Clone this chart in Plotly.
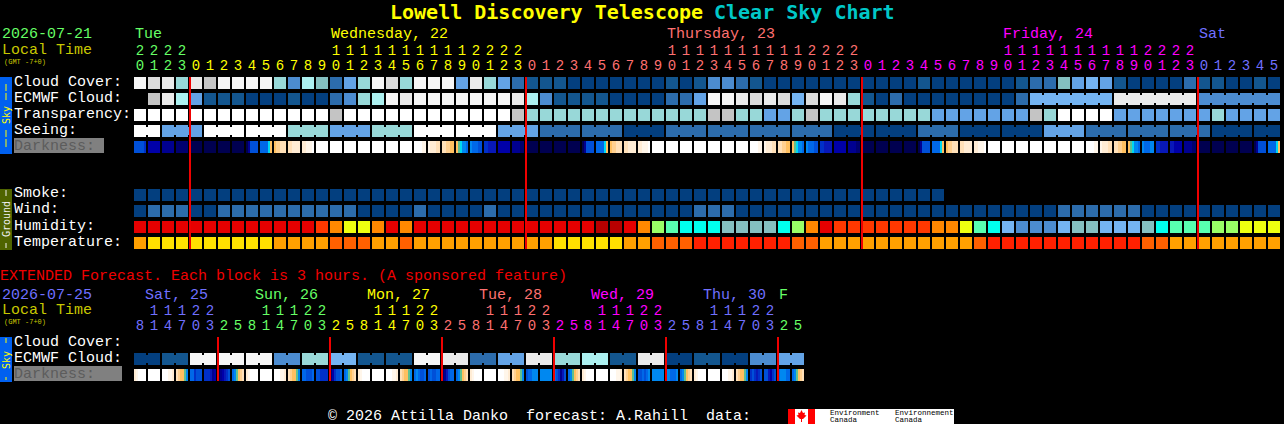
import plotly.graph_objects as go

W, H = 1284, 424
FONT = "Liberation Mono"
TITLE_FONT = "DejaVu Sans Mono"

# colour codes used by the hourly rows
COLORS = {
    "a": "#033F7F", "b": "#13568F", "c": "#2C6CAC", "d": "#4C8CD0", "e": "#63A3E6",
    "f": "#74B4F2", "g": "#84C0C0", "h": "#98D8D8", "i": "#ACF0F0", "j": "#C4C4C4",
    "k": "#DCDCDC", "l": "#EAEAEA", "n": "#F6F6F6", "W": "#FFFFFF",
    "r": "#E60000", "x": "#B80000", "u": "#FF3800", "o": "#FF8800", "y": "#EEFF10",
    "p": "#99FF66", "q": "#58FFB0", "s": "#00FFEE",
    "A": "#FFA000", "Y": "#FFE000", "O": "#FF6000", "T": "#FF2000",
}
CODES = list(COLORS)

# darkness shades, dark sky to full daylight
DARK_COLORS = {
    "A": "#000050", "B": "#000070", "C": "#000090", "D": "#0000A8", "E": "#0818B8",
    "F": "#0030C8", "G": "#0050D8", "H": "#0068E8", "I": "#0088F0", "J": "#00D8F0",
    "K": "#60C090", "L": "#FFC060", "M": "#FFD090", "N": "#FFE0B8", "O": "#FFECD4",
    "P": "#FFF6EA", "Q": "#FFFFFF",
}
DARK_CODES = list(DARK_COLORS)

HOURS = list(range(20, 24)) + list(range(24)) * 3 + list(range(6))
DAY_COLORS = ["#66FF66", "#FFFF00", "#FF7070", "#FF00FF", "#7070FF"]
EXT_HOURS = [8, 11, 14, 17, 20, 23, 2, 5] * 6
EXT_DAY_COLORS = ["#7070FF", "#66FF66", "#FFFF00", "#FF7070", "#FF00FF", "#7070FF", "#66FF66"]

CLOUD = list("nklhljnnnnhdigcehnkhn" "nnelhecbbbaaaaaaababddcbaaaaaaa" "aaaabaaaaaabccgefebaaaacbbaaba")
ECMWF = list("-jliebbbaaabaacdhinln" "nnnnnnlidbbbbaaaaccennlklkfknlh" "bacaaaaaaaacfffffflllllldddddd")
TRANSPARENCY = list("WWWWWWWWWWWWWWjWWWWWW" "WWWWWWjhhhhhhhhhhhhhjjhheehjhhh" "hhhhheeeeeeejhWWWWeeeeeeeheeee")
SEEING = list("WW" "eeeWWWWWWhhheeehhhWWW" "WWWeeeccccccaaacccccccccccc" "aaaaaacccaaaaaaeeeccccccccc" "aaa" "aa")
SMOKE = list("aaaaaaaaaaaaaaaaaaaaaaaaaaaaaaaaaaaaaaaaaaaaaaaaaaaaaaaaaa" "------------------------")
WIND = list("acccaaccccccccccaaaac" "aaaacaaaaaaaaaaaaaacccaaaaaaaaa" "aaaaaaaaaaaaaaccccccaaaaaaaaaa")
HUMIDITY = list("rrrrrrrrrrrrruoyyoror" "rrrrrrrrrrrrxxropqsssggggsporuu" "uuuuuooyqsfdddfggfffgsqqqppyyy")
TEMPERATURE = list("AYYYYYYYYYAAAAOOOAAOA" "AAAAAAAAAYYYYYAAOOOTTTTTTTOOAAA" "AAAAAAAAOTTTTTTTTTTTOOAAAAAAAA")

# six samples for every hourly block, sunset and sunrise change inside a block
DARKNESS = [
    "GGGGGF", "DDDDDD", "CCCCCC", "BBBBBB", "AAAAAA", "AAAAAA", "AAAAAA", "AAAAAA",
    "ACGGGG", "HHHHJL", "LMMNNN", "NNOOOO", "OOPPPQ", "QQQQQQ", "QQQQQQ", "QQQQQQ",
    "QQQQQQ", "QQQQQQ", "QQQQQQ", "QQQQQQ", "QQQQPP", "POOONN", "NNMMLL", "LKJIIH",
    "IHHHGG", "FFEEEE", "DDDDDD", "CCCCBB", "AAAAAA", "AAAAAA", "AAAAAA", "AAAAAA",
    "ACGGGG", "HHHHJL", "LMMNNN", "NNOOOO", "OOPPPQ", "QQQQQQ", "QQQQQQ", "QQQQQQ",
    "QQQQQQ", "QQQQQQ", "QQQQQQ", "QQQQQQ", "QQQQPP", "POOONN", "NNMMLL", "LKJIIH",
    "IHHHGG", "FFEEEE", "DDDDDD", "CCCCBB", "AAAAAA", "AAAAAA", "AAAAAA", "AAAAAA",
    "ACGGGG", "HHHHJL", "LMMNNN", "NNOOOO", "OOPPPQ", "QQQQQQ", "QQQQQQ", "QQQQQQ",
    "QQQQQQ", "QQQQQQ", "QQQQQQ", "QQQQQQ", "QQQQPP", "POOONN", "NNMMLL", "LKJIIH",
    "IHHHII", "FFEEEE", "EEDDDD", "CCCCBB", "AAAAAA", "AAAAAA", "AAAAAA", "AAAAAA",
    "ACGGGG", "HHHHJL",
]

EXT_ECMWF = list("aabbnnnnnnddhhffbbbbnnllcceellhhiibbllaabbaaddee")
EXT_DARKNESS = [
    "OPQQQQ", "QQQQQQ", "QQQPPO", "NMLLKI", "HHFGGG", "FFFECD", "ACDEFG", "HIKLMN",
    "OPQQQQ", "QQQQQQ", "QQQPPO", "NMLLKI", "HHGGGH", "GGFFFF", "BDFGGH", "HIKLMN",
    "OPQQQQ", "QQQQQQ", "QQQPPO", "NMLLKI", "HIHGGH", "GHGGHH", "BCEGHH", "HIKLMN",
    "OPQQQQ", "QQQQQQ", "QQQPPO", "NMLLKI", "GHHIII", "IIIIII", "HGFCEG", "HIKLMN",
    "OPQQQQ", "QQQQQQ", "QQQPPO", "NMLLKI", "GGHGHI", "IIIIII", "IIHHHI", "HIKLMN",
    "OPQQQQ", "QQQQQQ", "QQQPPO", "NMLLKI", "FGFEFG", "GGEDFG", "HIIIHH", "HIKLMN",
]

MAIN_ROWS = [CLOUD, ECMWF, TRANSPARENCY, SEEING, None, None, None, SMOKE, WIND, HUMIDITY, TEMPERATURE]
MAIN_LABELS = [("Cloud Cover:", 0), ("ECMWF Cloud:", 1), ("Transparency:", 2), ("Seeing:", 3),
               ("Smoke:", 7), ("Wind:", 8), ("Humidity:", 9), ("Temperature:", 10)]
DAY_NAMES = [("Tue", 0, 0), ("Wednesday, 22", 14, 1), ("Thursday, 23", 38, 2), ("Friday, 24", 62, 3), ("Sat", 76, 4)]
EXT_DAY_NAMES = [("Sat, 25", 0.7, 0), ("Sun, 26", 8.6, 1), ("Mon, 27", 16.6, 2), ("Tue, 28", 24.6, 3),
                 ("Wed, 29", 32.6, 4), ("Thu, 30", 40.6, 5), ("F", 46, 6)]

# rows are 16 px apart, columns 14 px, first cell starts at px 134
X_RANGE = [-10, 81.714]
Y_RANGE = [21.3125, -5.1875]
EXT_ECMWF_ROW = 17.25
EXT_DARK_ROW = 18.25


def stepped(colors):
    n = len(colors)
    scale = []
    for k, c in enumerate(colors):
        scale += [[k / n, c], [(k + 1) / n, c]]
    return scale


def to_z(codes):
    return [CODES.index(c) if c in COLORS else None for c in codes]


def px(x):
    return x / W


def py(y):
    return 1 - y / H


fig = go.Figure()

# hourly rows
main_z = [to_z(r) if r else [None] * len(HOURS) for r in MAIN_ROWS]
fig.add_trace(go.Heatmap(
    z=main_z, x=list(range(len(HOURS))), y=list(range(len(MAIN_ROWS))),
    colorscale=stepped(list(COLORS.values())), zmin=-0.5, zmax=len(CODES) - 0.5,
    xgap=2, ygap=4, showscale=False, hoverinfo="skip",
))
fig.add_trace(go.Heatmap(
    z=[to_z(EXT_ECMWF)], x=list(range(len(EXT_ECMWF))), y=[EXT_ECMWF_ROW],
    colorscale=stepped(list(COLORS.values())), zmin=-0.5, zmax=len(CODES) - 0.5,
    xgap=2, ygap=4, showscale=False, hoverinfo="skip",
))


# darkness strips have finer steps than one block
def darkness_trace(blocks, row):
    edges = []
    z = []
    for i, block in enumerate(blocks):
        for k, c in enumerate(block):
            edges.append(i - 0.5 + (1 + 2 * k) / 14)
            z.append(DARK_CODES.index(c))
        edges.append(i - 0.5 + 13 / 14)
        z.append(None)
    edges.append(len(blocks) - 0.5 + 1 / 14)
    return go.Heatmap(
        z=[z], x=edges, y=[row - 0.375, row + 0.375],
        colorscale=stepped(list(DARK_COLORS.values())), zmin=-0.5, zmax=len(DARK_CODES) - 0.5,
        showscale=False, hoverinfo="skip",
    )


fig.add_trace(darkness_trace(DARKNESS, 4))
fig.add_trace(darkness_trace(EXT_DARKNESS, EXT_DARK_ROW))


# blocks of one forecast step are joined by a thinner bar
def connector_traces(codes, row, same_block):
    segs = {}
    for i in range(len(codes) - 1):
        if same_block(i) and codes[i] == codes[i + 1] and codes[i] in COLORS:
            xs, ys = segs.setdefault(codes[i], ([], []))
            xs += [i, i + 1, None]
            ys += [row, row, None]
    for code, (xs, ys) in segs.items():
        fig.add_trace(go.Scatter(x=xs, y=ys, mode="lines", line=dict(color=COLORS[code], width=8),
                                 hoverinfo="skip", showlegend=False))


connector_traces(SEEING, 3, lambda i: (i + 2) % 3 != 0)
connector_traces(ECMWF, 1, lambda i: i >= 64)
connector_traces(EXT_ECMWF, EXT_ECMWF_ROW, lambda i: i % 2 == 0)


# hour labels
def hour_labels(hours, colors, new_day, units_row, tens_row):
    day = 0
    col = []
    for i, h in enumerate(hours):
        if i > 0 and h == new_day:
            day += 1
        col.append(colors[day])
    idx = list(range(len(hours)))
    fig.add_trace(go.Scatter(
        x=idx, y=[units_row] * len(hours), mode="text", text=[str(h % 10) for h in hours],
        textfont=dict(family=FONT, size=14, color=col), hoverinfo="skip", showlegend=False,
    ))
    fig.add_trace(go.Scatter(
        x=idx, y=[tens_row] * len(hours), mode="text",
        text=[str(h // 10) if h >= 10 else "" for h in hours],
        textfont=dict(family=FONT, size=14, color=col), hoverinfo="skip", showlegend=False,
    ))


hour_labels(HOURS, DAY_COLORS, 0, -1.06, -2.0)
hour_labels(EXT_HOURS, EXT_DAY_COLORS, 2, 15.19, 14.25)

# red midnight lines
mid_x = []
mid_y = []
for i, h in enumerate(HOURS):
    if h == 0:
        mid_x += [i - 0.5 + 1 / 14, i - 0.5 + 1 / 14, None]
        mid_y += [-0.375, 10.375, None]
for i, h in enumerate(EXT_HOURS):
    if h == 2:
        mid_x += [i - 0.5 + 1 / 14, i - 0.5 + 1 / 14, None]
        mid_y += [15.875, 18.625, None]
fig.add_trace(go.Scatter(x=mid_x, y=mid_y, mode="lines", line=dict(color="#F00000", width=2),
                         hoverinfo="skip", showlegend=False))

notes = []


def note(x, y, text, color="#FFFFFF", size=15, angle=0, anchor="left", bold=False, family=FONT):
    notes.append(dict(
        x=px(x), y=py(y), xref="paper", yref="paper", text=f"<b>{text}</b>" if bold else text,
        showarrow=False, xanchor=anchor, yanchor="middle", textangle=angle, borderpad=0,
        font=dict(family=family, size=size, color=color),
    ))


note(389, 12, "Lowell Discovery Telescope", "#FFFF00", 20, bold=True, family=TITLE_FONT)
note(713, 12, "Clear Sky Chart", "#00C8C8", 20, bold=True, family=TITLE_FONT)

note(1, 35, "2026-07-21", "#66FF66")
note(1, 50, "Local Time", "#C8C800")
note(3, 62, "(GMT -7+0)", "#C8C800", 7)
for name, col, day in DAY_NAMES:
    note(134 + col * 14, 35, name, DAY_COLORS[day])
for name, row in MAIN_LABELS:
    note(13, 82 + row * 16, name)

note(-1, 276, "EXTENDED Forecast. Each block is 3 hours. (A sponsored feature)", "#F00000")
note(1, 295, "2026-07-25", "#7070FF")
note(1, 310, "Local Time", "#C8C800")
note(3, 322, "(GMT -7+0)", "#C8C800", 7)
for name, col, day in EXT_DAY_NAMES:
    note(134 + col * 14, 295, name, EXT_DAY_COLORS[day])
note(13, 342, "Cloud Cover:")
note(13, 358, "ECMWF Cloud:")

note(327, 416, "© 2026 Attilla Danko\u00a0\u00a0forecast: A.Rahill\u00a0\u00a0data:")

# side bars and darkness label boxes
shapes = []


def box(x0, y0, x1, y1, color):
    shapes.append(dict(type="rect", xref="paper", yref="paper", x0=px(x0), x1=px(x1), y0=py(y0), y1=py(y1),
                       fillcolor=color, line=dict(width=0), layer="below"))


box(0, 77, 12, 154, "#0060F0")
box(0, 189, 12, 250, "#4F6400")
box(0, 337, 12, 382, "#0060F0")
box(14, 138, 104, 153, "#808080")
box(14, 366, 122, 381, "#808080")
note(6, 115, "Sky", "#FFFF00", 10, -90, "center", family=TITLE_FONT)
note(6, 219, "Ground", "#F0F0F0", 10, -90, "center", family=TITLE_FONT)
note(6, 360, "Sky", "#FFFF00", 10, -90, "center", family=TITLE_FONT)
for y0, y1 in [(84, 91), (93, 100), (130, 137), (139, 147), (338, 343), (377, 380)]:
    box(5.5, y0, 6.5, y1, "#FFFF00")
for y0, y1 in [(190, 196), (243, 248)]:
    box(5.5, y0, 6.5, y1, "#F0F0F0")
note(13, 146, "Darkness:", "#5C5C5C")
note(13, 374, "Darkness:", "#5C5C5C")

# Environment Canada logo
box(788, 409, 954, 424, "#FFFFFF")
box(788, 409, 795, 424, "#FF0000")
box(808, 409, 815, 424, "#FF0000")
LEAF = [(801.5, 410), (803, 413), (805, 412.5), (804.5, 415), (806.5, 415.5), (803, 419), (802, 419), (802, 422),
        (801, 422), (801, 419), (800, 419), (796.5, 415.5), (798.5, 415), (798, 412.5), (800, 413)]
leaf_path = "M " + " L ".join(f"{px(a)},{py(b)}" for a, b in LEAF) + " Z"
shapes.append(dict(type="path", xref="paper", yref="paper", path=leaf_path, fillcolor="#FF0000", line=dict(width=0)))
note(829, 413, "Environment", "#000000", 7.5)
note(829, 420, "Canada", "#000000", 7.5)
note(894, 413, "Environnement", "#000000", 7.5)
note(894, 420, "Canada", "#000000", 7.5)

fig.update_layout(
    width=W, height=H,
    margin=dict(l=0, r=0, t=0, b=0),
    paper_bgcolor="#000000", plot_bgcolor="#000000",
    xaxis=dict(range=X_RANGE, visible=False, fixedrange=True),
    yaxis=dict(range=Y_RANGE, visible=False, fixedrange=True),
    showlegend=False, annotations=notes, shapes=shapes,
)

fig.write_html("out.html", config=dict(displayModeBar=False),
               post_script="document.body.style.margin='0';document.body.style.background='#000';")
